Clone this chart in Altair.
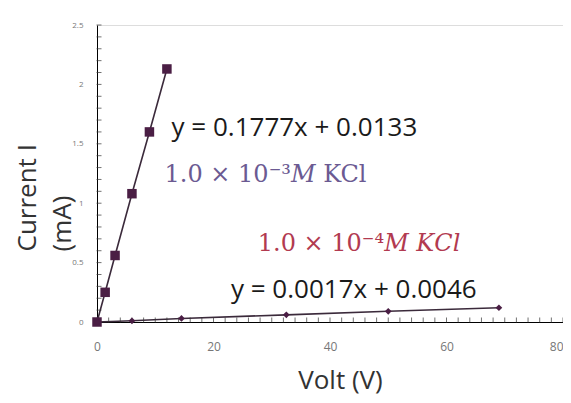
import altair as alt
import pandas as pd

# Series 1: 1.0e-3 M KCl
volt_1 = [0, 1.4, 3.1, 6.0, 9.0, 12.0]
curr_1 = [0, 0.25, 0.56, 1.08, 1.60, 2.13]
# Series 2: 1.0e-4 M KCl
volt_2 = [0, 6, 14.5, 32.5, 50, 69]
curr_2 = [0, 0.01, 0.03, 0.06, 0.09, 0.12]

x_ticks = [0, 20, 40, 60, 80]
y_ticks = [0, 0.5, 1, 1.5, 2, 2.5]
x_minor = list(range(0, 81, 2))
y_minor = [round(k * 0.1, 1) for k in range(0, 26)]

df1 = pd.DataFrame({"v": volt_1, "i": curr_1})
df2 = pd.DataFrame({"v": volt_2, "i": curr_2})

W, H = 466, 297
xs = alt.Scale(domain=[0, 80], nice=False)
ys = alt.Scale(domain=[0, 2.5], nice=False)
LINE = "#3b2a3b"
MARK = "#4a1e44"

xax = alt.Axis(values=x_ticks, grid=False, domainColor="black", ticks=False,
               labelFontSize=12, labelColor="#777", labelPadding=19, labelFlush=False,
               labelAlign={"condition": {"test": "datum.value == 80", "value": "right"},
                           "value": "center"},
               labelFont="Open Sans", title="Volt (V)", titleFont="Open Sans",
               titleFontSize=26, titleFontWeight="normal", titleColor="#333",
               titleX=243, titleY=58, titleBaseline="middle", titleAlign="center",
               format="~g")
yax = alt.Axis(values=y_ticks, grid=False, domainColor="black", ticks=False,
               labelFontSize=8, labelColor="#777", labelPadding=14, labelFlush=False,
               labelFont="Open Sans", title=["Current I", "(mA)"], titleFont="Open Sans",
               titleFontSize=26, titleFontWeight="normal", titleColor="#333",
               titleLineHeight=35, titleX=-57, titleY=226, titleAlign="left",
               titleBaseline="bottom", titleAngle=270, format="~g")

base = alt.Chart(df1)
line1 = base.mark_line(color=LINE, strokeWidth=1.6).encode(
    x=alt.X("v:Q", scale=xs, axis=xax), y=alt.Y("i:Q", scale=ys, axis=yax))
pts1 = base.mark_point(shape="square", filled=True, size=90, color=MARK, opacity=1).encode(
    x=alt.X("v:Q", scale=xs), y=alt.Y("i:Q", scale=ys))
line2 = alt.Chart(df2).mark_line(color=LINE, strokeWidth=1.6).encode(
    x=alt.X("v:Q", scale=xs), y=alt.Y("i:Q", scale=ys))
pts2 = alt.Chart(df2).mark_point(shape="diamond", filled=True, size=45, color=MARK, opacity=1).encode(
    x=alt.X("v:Q", scale=xs), y=alt.Y("i:Q", scale=ys))

xt = alt.Chart(pd.DataFrame({"v": x_minor})).mark_tick(
    orient="vertical", size=5, thickness=1, color="#333", yOffset=-2).encode(
    x=alt.X("v:Q", scale=xs), y=alt.datum(0, scale=ys))
yt = alt.Chart(pd.DataFrame({"i": y_minor})).mark_tick(
    orient="horizontal", size=5, thickness=1, color="#333", xOffset=2).encode(
    y=alt.Y("i:Q", scale=ys), x=alt.datum(0, scale=xs))

ann = pd.DataFrame({
    "x": [12.8, 23.0],
    "y": [1.63, 0.27],
    "t": ["y = 0.1777x + 0.0133", "y = 0.0017x + 0.0046"],
})
eq = alt.Chart(ann).mark_text(align="left", baseline="middle", font="Open Sans",
                              fontSize=26, color="#1a1a1a").encode(
    x=alt.X("x:Q", scale=xs), y=alt.Y("y:Q", scale=ys), text="t:N")

lab = pd.DataFrame({
    "x": [11.6, 27.6],
    "y": [1.24, 0.66],
    "t": ["1.0 × 10⁻³𝑀 KCl", "1.0 × 10⁻⁴𝑀 𝐾𝐶𝑙"],
    "c": ["#6b5a92", "#b23a50"],
})
labels = alt.Chart(lab).mark_text(align="left", baseline="middle", font="DejaVu Serif",
                                  fontSize=24).encode(
    x=alt.X("x:Q", scale=xs), y=alt.Y("y:Q", scale=ys), text="t:N",
    color=alt.Color("c:N", scale=None))

chart = alt.layer(line1, line2, xt, yt, pts1, pts2, eq, labels).properties(
    width=W, height=H,
    autosize=alt.AutoSizeParams(type="none"),
    padding={"left": 89, "top": 17, "right": 0, "bottom": 73},
).configure_view(stroke=None).configure(background="white")

chart.save("out.html", embed_options={"renderer": "svg", "actions": False})
